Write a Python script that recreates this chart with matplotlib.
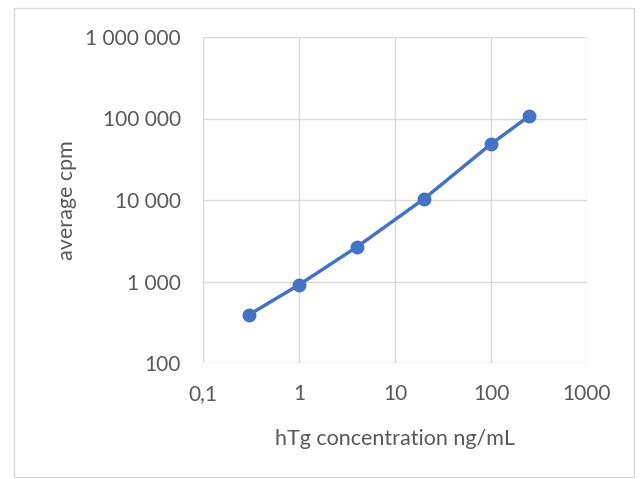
import matplotlib.pyplot as plt
from matplotlib.patches import Rectangle
from matplotlib.ticker import FixedLocator, NullLocator

# data
conc = [0.3, 1, 4, 20, 100, 250]
cpm = [390, 910, 2650, 10300, 48600, 107000]

x_ticks = [0.1, 1, 10, 100, 1000]
x_labels = ['0,1', '1', '10', '100', '1000']
y_ticks = [100, 1000, 10000, 100000, 1000000]
y_labels = ['100', '1 000', '10 000', '100 000', '1 000 000']

blue = '#4472C4'
grey = '#D9D9D9'
text_col = '#595959'

plt.rcParams['font.family'] = ['Lato', 'DejaVu Sans']

fig = plt.figure(figsize=(6.43, 4.79), dpi=100)
ax = fig.add_axes([203 / 643, 1 - 363 / 479, 384 / 643, 326 / 479])

# light frame around the whole chart, like the spreadsheet chart area
fig.patches.append(Rectangle((14 / 643, 1 - 477 / 479), 620 / 643, 469 / 479,
                             transform=fig.transFigure, fill=False,
                             edgecolor=grey, linewidth=1))

ax.plot(conc, cpm, color=blue, linewidth=2.5, marker='o', markersize=9,
        markerfacecolor=blue, markeredgecolor=blue, zorder=3)

ax.set_xscale('log')
ax.set_yscale('log')
ax.set_xlim(0.1, 1000)
ax.set_ylim(100, 1000000)
ax.xaxis.set_major_locator(FixedLocator(x_ticks))
ax.yaxis.set_major_locator(FixedLocator(y_ticks))
ax.xaxis.set_minor_locator(NullLocator())
ax.yaxis.set_minor_locator(NullLocator())
ax.set_xticklabels(x_labels)
ax.set_yticklabels(y_labels)

ax.grid(True, color=grey, linewidth=1)
for s in ax.spines.values():
    s.set_visible(False)
ax.tick_params(length=0, labelsize=15, labelcolor=text_col)
ax.tick_params(axis='x', pad=15)
ax.tick_params(axis='y', pad=16)

ax.set_xlabel('hTg concentration ng/mL', fontsize=15.5, color=text_col, labelpad=18)
ax.set_ylabel('average cpm', fontsize=15.5, color=text_col, labelpad=6)

fig.savefig('out.png', dpi=100)
